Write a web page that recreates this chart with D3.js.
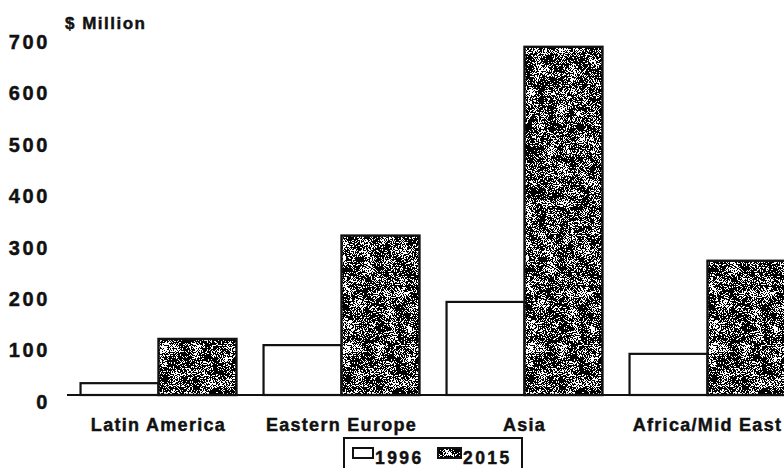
<!DOCTYPE html>
<html>
<head>
<meta charset="utf-8">
<script src="https://cdn.jsdelivr.net/npm/d3@7/dist/d3.min.js"></script>
<style>
  html, body { margin: 0; padding: 0; background: #fff; }
  svg { display: block; }
  text { font-family: "Liberation Sans", Arial, Helvetica, sans-serif; font-weight: bold; fill: #111; stroke: #111; stroke-width: 0.45px; }
</style>
</head>
<body>
<svg id="chart" width="784" height="468"></svg>
<script>
// Regional values, $ million
const regions = ["Latin America", "Eastern Europe", "Asia", "Africa/Mid East"];
const years = ["1996", "2015"];
const values1996 = [23, 97, 181, 80];
const values2015 = [109, 310, 677, 261];
const yTicks = [0, 100, 200, 300, 400, 500, 600, 700];

const svg = d3.select("#chart");
const W = 784, H = 468;
const baseY = 395, topY = 35;

// Speckled grey texture for the 2015 bars
const defs = svg.append("defs");
const f = defs.append("filter")
  .attr("id", "grain")
  .attr("filterUnits", "userSpaceOnUse")
  .attr("x", 0).attr("y", 0).attr("width", W).attr("height", H)
  .attr("color-interpolation-filters", "sRGB");
const opaque = "1 0 0 0 0  0 1 0 0 0  0 0 1 0 0  0 0 0 0 1";
f.append("feTurbulence").attr("type", "fractalNoise").attr("baseFrequency", 1.1)
  .attr("numOctaves", 2).attr("seed", 7).attr("result", "fineRaw");
f.append("feColorMatrix").attr("in", "fineRaw").attr("type", "matrix")
  .attr("values", opaque).attr("result", "fine");
f.append("feTurbulence").attr("type", "fractalNoise").attr("baseFrequency", 0.09)
  .attr("numOctaves", 2).attr("seed", 23).attr("result", "coarseRaw");
f.append("feColorMatrix").attr("in", "coarseRaw").attr("type", "matrix")
  .attr("values", opaque).attr("result", "coarse");
f.append("feComposite").attr("in", "fine").attr("in2", "coarse").attr("operator", "arithmetic")
  .attr("k1", 0).attr("k2", 1).attr("k3", 0.35).attr("k4", -0.175).attr("result", "mix");
f.append("feColorMatrix").attr("in", "mix").attr("type", "matrix")
  .attr("values", "0 0 0 0 0  0 0 0 0 0  0 0 0 0 0  1 0 0 0 0").attr("result", "a");
const ct = f.append("feComponentTransfer").attr("in", "a").attr("result", "dots");
ct.append("feFuncA").attr("type", "discrete")
  .attr("tableValues", "1 1 1 1 1 1 1 1 1 1 1 0 0 0 0 0 0 0 0 0");
f.append("feFlood").attr("flood-color", "#fff").attr("result", "white");
const m = f.append("feMerge").attr("result", "tex");
m.append("feMergeNode").attr("in", "white");
m.append("feMergeNode").attr("in", "dots");
f.append("feComposite").attr("in", "tex").attr("in2", "SourceAlpha").attr("operator", "in");

// Scales
const x0 = d3.scaleBand().domain(regions).range([67, 799])
  .paddingInner(0.148).paddingOuter(0.074);
const x1 = d3.scaleBand().domain(years).range([0, x0.bandwidth()]);
const y = d3.scaleLinear().domain([0, 700]).range([baseY, topY]);

// Y axis labels (no axis line)
const yAxis = svg.append("g").attr("transform", "translate(50,7)")
  .call(d3.axisLeft(y).tickValues(yTicks).tickSize(0).tickPadding(0).tickFormat(d3.format("d")));
yAxis.select(".domain").remove();
yAxis.selectAll("text")
  .attr("font-size", 20).attr("letter-spacing", "2.6px")
  .attr("font-family", "Liberation Sans, Arial, sans-serif").attr("font-weight", "bold")
  .attr("fill", "#111");

svg.append("text").attr("x", 65).attr("y", 29)
  .attr("font-size", 17).attr("letter-spacing", "1.5px").text("$ Million");

// Bars
const data = regions.map((r, i) => ({ region: r, v: [values1996[i], values2015[i]] }));
const groups = svg.append("g").selectAll("g").data(data).join("g")
  .attr("transform", d => `translate(${x0(d.region)},0)`);

groups.selectAll("rect.b1996").data(d => [d.v[0]]).join("rect")
  .attr("class", "b1996")
  .attr("x", x1("1996")).attr("width", x1.bandwidth())
  .attr("y", v => y(v)).attr("height", v => baseY - y(v))
  .attr("fill", "#fff").attr("stroke", "#111").attr("stroke-width", 2.2);

groups.selectAll("rect.b2015").data(d => [d.v[1]]).join("rect")
  .attr("class", "b2015")
  .attr("x", x1("2015")).attr("width", x1.bandwidth())
  .attr("y", v => y(v)).attr("height", v => baseY - y(v))
  .attr("fill", "#000").attr("filter", "url(#grain)");
groups.selectAll("rect.o2015").data(d => [d.v[1]]).join("rect")
  .attr("class", "o2015")
  .attr("x", x1("2015")).attr("width", x1.bandwidth())
  .attr("y", v => y(v)).attr("height", v => baseY - y(v))
  .attr("fill", "none").attr("stroke", "#111").attr("stroke-width", 2.4);

// Baseline
svg.append("line").attr("x1", 67).attr("x2", W).attr("y1", baseY).attr("y2", baseY)
  .attr("stroke", "#111").attr("stroke-width", 2.2);

// Category labels
svg.append("g").selectAll("text").data(regions).join("text")
  .attr("x", d => x0(d) + x0.bandwidth() / 2)
  .attr("y", 431)
  .attr("text-anchor", "middle")
  .attr("font-size", 18).attr("letter-spacing", "1.3px")
  .text(d => d);

// Legend
const lg = svg.append("g");
lg.append("rect").attr("x", 344).attr("y", 438).attr("width", 178).attr("height", 40)
  .attr("fill", "#fff").attr("stroke", "#111").attr("stroke-width", 2);
const items = [
  { label: years[0], sx: 353, w: 20, tx: 375, grain: false },
  { label: years[1], sx: 438, w: 23, tx: 463, grain: true }
];
items.forEach(it => {
  if (it.grain) {
    lg.append("rect").attr("x", it.sx).attr("y", 448).attr("width", it.w).attr("height", 10)
      .attr("fill", "#000").attr("filter", "url(#grain)");
  }
  lg.append("rect").attr("x", it.sx).attr("y", 448).attr("width", it.w).attr("height", 10)
    .attr("fill", "none").attr("stroke", "#111").attr("stroke-width", 2);
  lg.append("text").attr("x", it.tx).attr("y", 464).attr("font-size", 17.5)
    .attr("letter-spacing", "2.4px").text(it.label);
});
</script>
</body>
</html>
